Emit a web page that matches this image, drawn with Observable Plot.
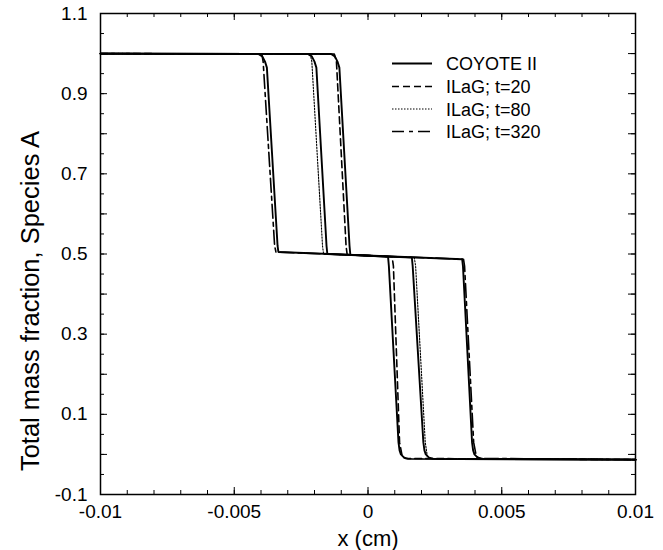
<!DOCTYPE html>
<html><head><meta charset="utf-8">
<script src="https://cdn.jsdelivr.net/npm/d3@7"></script>
<script src="https://cdn.jsdelivr.net/npm/@observablehq/plot@0.6"></script>
<style>
body{margin:0;background:#fff;}
#wrap{position:relative;width:663px;height:550px;font-family:"Liberation Sans",Arial,Helvetica,sans-serif;}
#legend{position:absolute;left:0;top:0;pointer-events:none;}
</style></head><body><div id="wrap"></div>
<script>
// ---- data (x in cm, y = total mass fraction of species A) ----
const coyote20X  = [-0.01, -0.00138, -0.00124, -0.00114, -0.00107, -0.00069, -0.00066, 0.00075, 0.00078, 0.00114, 0.00118, 0.00123, 0.00135, 0.0015, 0.01];
const coyote20Y  = [1.0, 0.999, 0.993, 0.98, 0.965, 0.52, 0.498, 0.493, 0.47, 0.03, 0.01, 0.0, -0.008, -0.011, -0.013];
const coyote80X  = [-0.01, -0.00225, -0.0021, -0.002, -0.00193, -0.00155, -0.00152, 0.00164, 0.00167, 0.00207, 0.00211, 0.00216, 0.00228, 0.00245, 0.01];
const coyote80Y  = [1.0, 0.999, 0.993, 0.98, 0.965, 0.52, 0.500, 0.491, 0.47, 0.03, 0.01, 0.0, -0.008, -0.011, -0.013];
const coyote320X = [-0.01, -0.0041, -0.00395, -0.00385, -0.00378, -0.00338, -0.00335, 0.00352, 0.00355, 0.00389, 0.00393, 0.00398, 0.0041, 0.0043, 0.01];
const coyote320Y = [1.0, 0.999, 0.993, 0.98, 0.965, 0.52, 0.505, 0.487, 0.47, 0.03, 0.01, 0.0, -0.008, -0.011, -0.013];

const ilag20X  = [-0.01, -0.00126, -0.00118, -0.00082, -0.00078, 0.0009, 0.00095, 0.00118, 0.00128, 0.0014, 0.01];
const ilag20Y  = [1.0, 0.999, 0.98, 0.52, 0.499, 0.493, 0.47, 0.03, -0.005, -0.010, -0.013];
const ilag80X  = [-0.01, -0.00216, -0.0021, -0.0017, -0.00166, 0.00173, 0.00178, 0.00214, 0.00222, 0.00235, 0.01];
const ilag80Y  = [1.0, 0.999, 0.98, 0.52, 0.500, 0.491, 0.47, 0.03, -0.005, -0.010, -0.013];
const ilag320X = [-0.01, -0.00397, -0.00392, -0.00349, -0.00344, 0.00357, 0.00361, 0.00395, 0.00405, 0.0042, 0.01];
const ilag320Y = [1.0, 0.999, 0.98, 0.52, 0.505, 0.487, 0.47, 0.03, -0.005, -0.010, -0.013];

const seriesNames = ["COYOTE II", "ILaG; t=20", "ILaG; t=80", "ILaG; t=320"];
const xTickLabels = [-0.01, -0.005, 0, 0.005, 0.01];
const yTickLabels = [-0.1, 0.1, 0.3, 0.5, 0.7, 0.9, 1.1];
const xTitle = "x (cm)";
const yTitle = "Total mass fraction, Species A";

// ---- build ----
const FONT = '"Liberation Sans", Arial, Helvetica, sans-serif';
const W = 663, H = 550, mL = 100, mR = 28, mT = 13, mB = 56;
const iW = W - mL - mR, iH = H - mT - mB;
const rows = (xs, ys) => xs.map((x, i) => ({x, y: ys[i]}));

const xMinor = d3.range(-10, 11).map(d => d / 1000);
const xMajor = xTickLabels;
const yMinor = d3.range(-2, 23).map(d => d / 20);
const yMajor = d3.range(-1, 12).map(d => d / 10);
const minorLen = 4, majorLen = 7;

const solid = {x: "x", y: "y", stroke: "black", strokeWidth: 1.9};
const chart = Plot.plot({
  width: W, height: H,
  marginLeft: mL, marginRight: mR, marginTop: mT, marginBottom: mB,
  x: {domain: [-0.01, 0.01]},
  y: {domain: [-0.1, 1.1]},
  style: {fontFamily: FONT, fontSize: "19px", color: "black", background: "white", overflow: "visible"},
  marks: [
    Plot.tickX(xMinor, {x: d => d, insetTop: iH - minorLen, stroke: "black", strokeWidth: 1}),
    Plot.tickX(xMinor, {x: d => d, insetBottom: iH - minorLen, stroke: "black", strokeWidth: 1}),
    Plot.tickX(xMajor, {x: d => d, insetTop: iH - majorLen, stroke: "black", strokeWidth: 1}),
    Plot.tickX(xMajor, {x: d => d, insetBottom: iH - majorLen, stroke: "black", strokeWidth: 1}),
    Plot.tickY(yMinor, {y: d => d, insetRight: iW - minorLen, stroke: "black", strokeWidth: 1}),
    Plot.tickY(yMinor, {y: d => d, insetLeft: iW - minorLen, stroke: "black", strokeWidth: 1}),
    Plot.tickY(yMajor, {y: d => d, insetRight: iW - majorLen, stroke: "black", strokeWidth: 1}),
    Plot.tickY(yMajor, {y: d => d, insetLeft: iW - majorLen, stroke: "black", strokeWidth: 1}),
    Plot.axisX(xTickLabels, {tickSize: 0, tickPadding: 10, tickFormat: d => String(d), label: null, fontSize: 19}),
    Plot.axisY(yTickLabels, {tickSize: 0, tickPadding: 13, tickFormat: d => String(d), label: null, fontSize: 19}),
    Plot.line(rows(ilag20X, ilag20Y), {x: "x", y: "y", stroke: "black", strokeWidth: 1.6, strokeDasharray: "7,4"}),
    Plot.line(rows(ilag80X, ilag80Y), {x: "x", y: "y", stroke: "black", strokeWidth: 1.1, strokeDasharray: "1.5,1.5"}),
    Plot.line(rows(ilag320X, ilag320Y), {x: "x", y: "y", stroke: "black", strokeWidth: 1.6, strokeDasharray: "14,4,4,4"}),
    Plot.line(rows(coyote20X, coyote20Y), solid),
    Plot.line(rows(coyote80X, coyote80Y), solid),
    Plot.line(rows(coyote320X, coyote320Y), solid),
    Plot.frame({stroke: "black", strokeWidth: 1.5}),
    Plot.text([xTitle], {text: d => d, frameAnchor: "bottom", textAnchor: "middle", lineAnchor: "middle", dy: 44, fontSize: 22, fill: "black"}),
    Plot.text([yTitle], {text: d => d, frameAnchor: "left", textAnchor: "middle", lineAnchor: "middle", dx: -70, dy: 47, rotate: -90, fontSize: 25.5, fill: "black"})
  ]
});
const wrap = document.getElementById("wrap");
wrap.appendChild(chart);

// ---- legend (overlay) ----
const ns = "http://www.w3.org/2000/svg";
const leg = document.createElementNS(ns, "svg");
leg.setAttribute("id", "legend");
leg.setAttribute("width", W); leg.setAttribute("height", H);
const legStyles = [
  {dash: null, w: 1.9},
  {dash: "7,4", w: 1.6},
  {dash: "1.5,1.5", w: 1.1},
  {dash: "12,5,4,5", w: 1.6}
];
const rowY = [63.5, 86.5, 109, 131.5];
seriesNames.forEach((name, i) => {
  const l = document.createElementNS(ns, "line");
  l.setAttribute("x1", 392); l.setAttribute("x2", 432);
  l.setAttribute("y1", rowY[i]); l.setAttribute("y2", rowY[i]);
  l.setAttribute("stroke", "black"); l.setAttribute("stroke-width", legStyles[i].w);
  if (legStyles[i].dash) l.setAttribute("stroke-dasharray", legStyles[i].dash);
  leg.appendChild(l);
  const t = document.createElementNS(ns, "text");
  t.setAttribute("x", 446); t.setAttribute("y", rowY[i] + 6.5);
  t.setAttribute("font-family", FONT); t.setAttribute("font-size", 18);
  t.setAttribute("fill", "black");
  t.textContent = name;
  leg.appendChild(t);
});
wrap.appendChild(leg);
</script></body></html>
